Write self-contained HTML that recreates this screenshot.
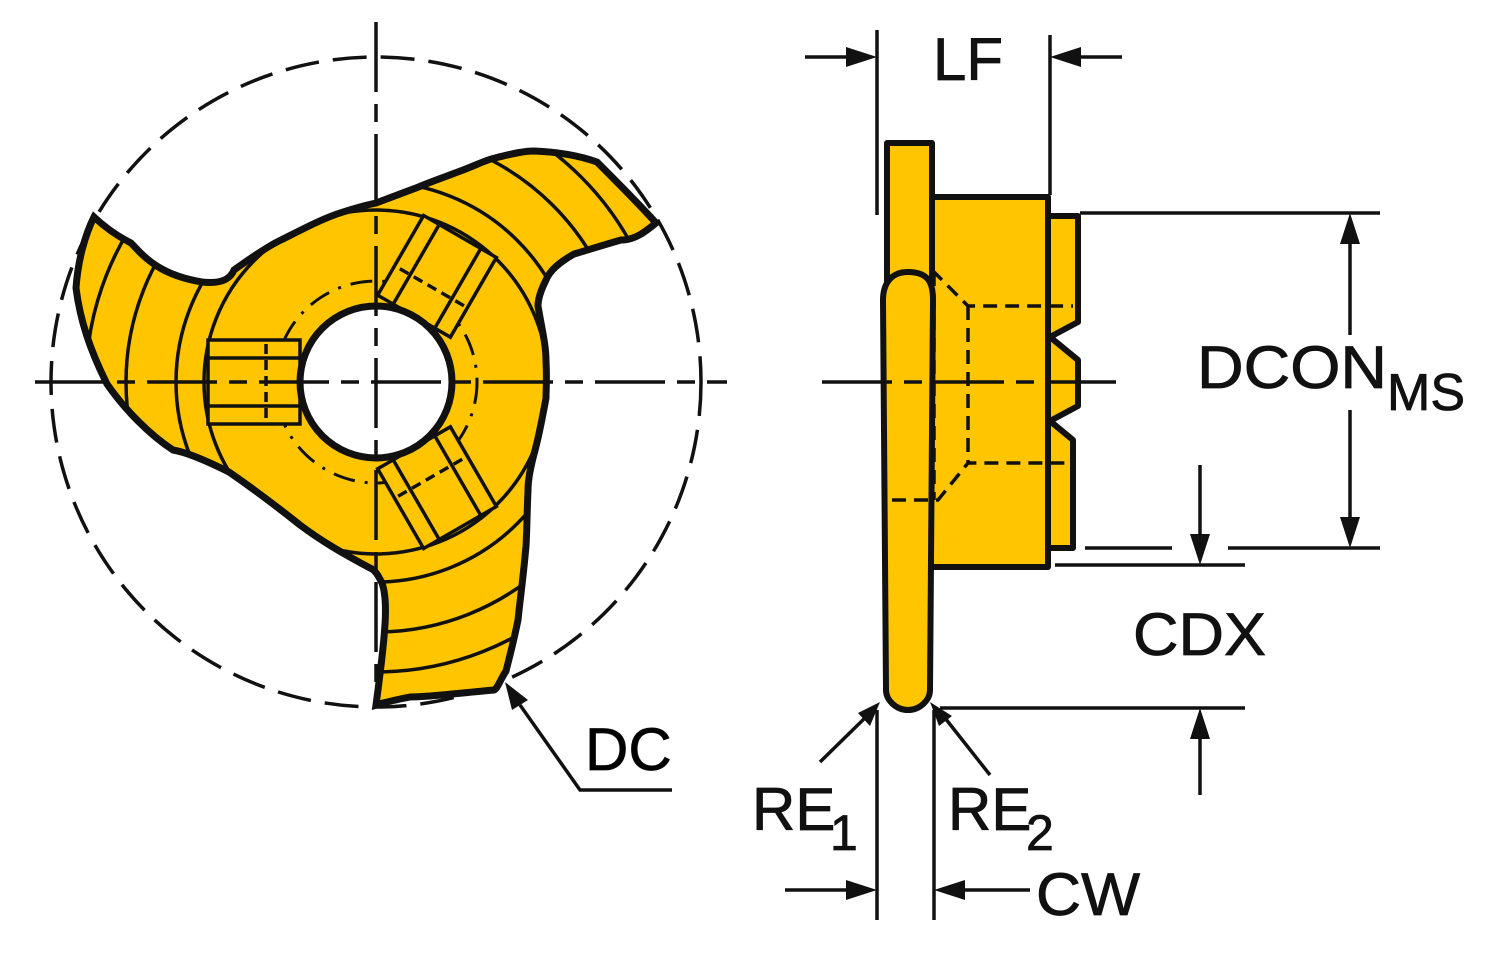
<!DOCTYPE html>
<html><head><meta charset="utf-8"><style>html,body{margin:0;padding:0;background:#fff}svg{display:block}</style></head><body>
<svg width="1500" height="955" viewBox="0 0 1500 955" xmlns="http://www.w3.org/2000/svg" font-family="Liberation Sans, Arial, sans-serif">
<defs>
<clipPath id="ins"><path id="ip" d="M94,217 C110,232 125,240 131,243 C145,258 160,275 202,282 C220,284 230,280 234,270 C255,255 270,245 281,240 C305,228 320,220 337,214 C355,208 366,205 376,203 C395,196 405,192 416,188 C435,180 445,177 455,173 C475,166 485,160 495,158 C515,153 525,151 534,151 C560,152 580,156 597,162 C620,185 640,205 656,223 C645,232 635,240 621,240 C600,246 588,250 574,254 C560,262 550,270 546,280 C540,292 538,300 538,306 C542,330 546,345 546,361 C547,380 546,390 546,398 C542,420 538,440 534,454 C530,470 528,480 528,491 C527,510 527,530 526,546 C523,580 520,600 518,620 C514,640 510,655 506,671 C500,680 498,688 494,690 C460,693 430,697 410,697 C395,700 385,702 376,705 C378,690 380,675 382,657 C385,630 388,600 382,583 C378,575 375,570 370,568 C340,552 320,540 300,525 C275,505 255,490 229,472 C205,460 185,452 173,450 C150,435 125,410 107,384 C90,350 80,320 76,288 C78,260 85,235 94,217 Z"/></clipPath>
</defs>
<circle cx="376" cy="382" r="325" fill="none" stroke="#111" stroke-width="3.5" stroke-dasharray="34 14"/>
<use href="#ip" fill="#FFC600"/>
<g clip-path="url(#ins)" fill="none" stroke="#111" stroke-width="3.5">
<circle cx="376" cy="382" r="172"/>
<circle cx="376" cy="382" r="200"/>
<circle cx="376" cy="382" r="250"/>
<circle cx="376" cy="382" r="290"/>
</g>
<use href="#ip" fill="none" stroke="#111" stroke-width="7"/>
<circle cx="376" cy="382" r="101" fill="none" stroke="#111" stroke-width="3" stroke-dasharray="22 10 3 10"/>
<g fill="none" stroke="#111" stroke-width="3.5">
<g transform="translate(376,382)">
<rect x="-168" y="-42" width="92" height="84" fill="#FFC600"/>
<line x1="-168" y1="-24" x2="-76" y2="-24"/><line x1="-168" y1="24" x2="-76" y2="24"/><line x1="-110" y1="-38" x2="-110" y2="38" stroke-dasharray="10 6"/>
</g>
<g transform="translate(376,382) rotate(120)">
<rect x="-168" y="-42" width="92" height="84" fill="#FFC600"/>
<line x1="-168" y1="-24" x2="-76" y2="-24"/><line x1="-168" y1="24" x2="-76" y2="24"/><line x1="-110" y1="-38" x2="-110" y2="38" stroke-dasharray="10 6"/>
</g>
<g transform="translate(376,382) rotate(240)">
<rect x="-168" y="-42" width="92" height="84" fill="#FFC600"/>
<line x1="-168" y1="-24" x2="-76" y2="-24"/><line x1="-168" y1="24" x2="-76" y2="24"/><line x1="-110" y1="-38" x2="-110" y2="38" stroke-dasharray="10 6"/>
</g>
</g>
<circle cx="376" cy="382" r="76" fill="#fff" stroke="#111" stroke-width="7"/>
<line x1="35" y1="382" x2="727" y2="382" stroke="#111" stroke-width="3.5" stroke-dasharray="70 12 18 12"/>
<line x1="376" y1="22" x2="376" y2="700" stroke="#111" stroke-width="3.5" stroke-dasharray="70 12 18 12"/>
<polyline points="672,790 580,790 520,705" fill="none" stroke="#111" stroke-width="3.5"/>
<polygon points="505,682 528,700 512,710" fill="#111"/>
<text x="585" y="770" font-size="60" stroke="#111" stroke-width="0.8">DC</text>

<g stroke="#111" stroke-width="6" stroke-linejoin="round">
<rect x="930" y="197" width="118" height="370" fill="#FFC600"/>
<polygon points="1048,216 1078,216 1078,322 1050,337 1078,360 1078,406 1050,421 1073,440 1073,548 1048,548" fill="#FFC600"/>
<rect x="887" y="143" width="45" height="140" fill="#FFC600"/>
<path d="M908,272 C930,272 933,285 933,300 L930,690 C930,700 920,710 908,710 C896,710 886,700 886,690 L883,300 C883,285 890,272 908,272 Z" fill="#FFC600"/>
</g>
<g fill="none" stroke="#111" stroke-width="3.5" stroke-dasharray="14 8">
<polyline points="932,270 968,306 1073,306"/>
<line x1="968" y1="306" x2="968" y2="463"/>
<polyline points="892,500 938,500 968,463 1073,463"/>
<line x1="934" y1="272" x2="934" y2="500"/>
</g>
<line x1="822" y1="382" x2="1120" y2="382" stroke="#111" stroke-width="3.5" stroke-dasharray="70 12 18 12"/>

<g stroke="#111" stroke-width="3.5" fill="none">
<line x1="877" y1="30" x2="877" y2="215"/><line x1="1050" y1="35" x2="1050" y2="195"/>
<line x1="805" y1="57" x2="850" y2="57"/><line x1="1080" y1="57" x2="1122" y2="57"/>
<line x1="1080" y1="213" x2="1380" y2="213"/><line x1="1085" y1="548" x2="1172" y2="548"/><line x1="1228" y1="548" x2="1380" y2="548"/>
<line x1="1350" y1="240" x2="1350" y2="335"/><line x1="1350" y1="410" x2="1350" y2="522"/>
<line x1="1055" y1="565" x2="1245" y2="565"/><line x1="940" y1="708" x2="1245" y2="708"/>
<line x1="1200" y1="465" x2="1200" y2="540"/><line x1="1200" y1="735" x2="1200" y2="795"/>
<line x1="877" y1="710" x2="877" y2="920"/><line x1="934" y1="710" x2="934" y2="920"/>
<line x1="785" y1="890" x2="850" y2="890"/><line x1="962" y1="890" x2="1030" y2="890"/>
<line x1="820" y1="762" x2="868" y2="715"/><line x1="990" y1="775" x2="945" y2="718"/>
</g>
<g fill="#111">
<polygon points="877,57 846,47 846,67"/><polygon points="1050,57 1081,47 1081,67"/>
<polygon points="1350,213 1340,244 1360,244"/><polygon points="1350,548 1340,517 1360,517"/>
<polygon points="1200,565 1190,534 1210,534"/><polygon points="1200,708 1190,739 1210,739"/>
<polygon points="877,890 846,880 846,900"/><polygon points="934,890 965,880 965,900"/>
<polygon points="880,702 858,713 870,726"/><polygon points="930,702 939,726 952,716"/>
</g>
<g fill="#111" stroke="#111" stroke-width="0.8">
<text x="933" y="80" font-size="60">LF</text>
<text x="1197" y="388" font-size="60" textLength="190" lengthAdjust="spacingAndGlyphs">DCON</text><text x="1387" y="410" font-size="52">MS</text>
<text x="1133" y="655" font-size="60" textLength="133" lengthAdjust="spacingAndGlyphs">CDX</text>
<text x="752" y="830" font-size="60">RE</text><text x="830" y="850" font-size="50">1</text>
<text x="948" y="830" font-size="60">RE</text><text x="1026" y="850" font-size="50">2</text>
<text x="1036" y="915" font-size="60" textLength="104" lengthAdjust="spacingAndGlyphs">CW</text>
</g>
</svg>
</body></html>
